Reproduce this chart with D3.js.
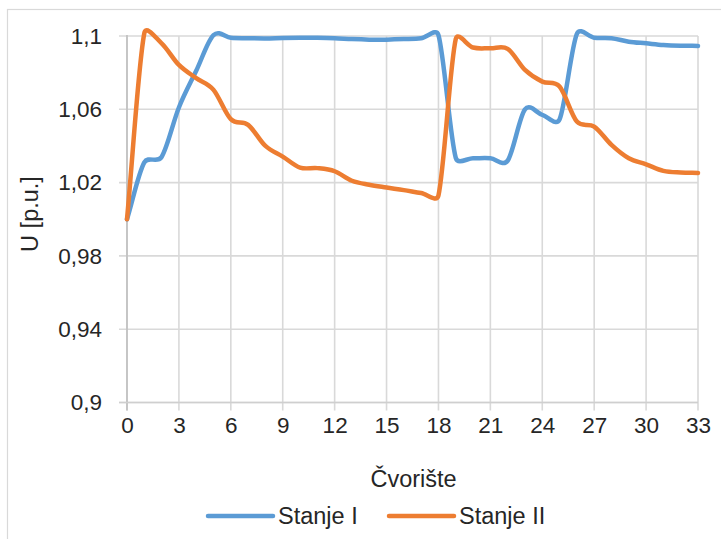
<!DOCTYPE html>
<html>
<head>
<meta charset="utf-8">
<script src="https://cdn.jsdelivr.net/npm/d3@7"></script>
<style>
  html, body { margin: 0; padding: 0; background: #fff; }
  svg { display: block; }
  text { font-family: "Liberation Sans", Arial, sans-serif; fill: #262626; }
</style>
</head>
<body>
<svg id="chart" width="721" height="539"></svg>
<script>
// Node indices (Čvorište)
const nodes = d3.range(0, 34);

// Voltage profile, state I (p.u.)
const stanjeI = [
  1.000, 1.031, 1.034, 1.061, 1.081, 1.1005, 1.0990, 1.0988, 1.0987, 1.0989,
  1.0990, 1.0990, 1.0988, 1.0983, 1.0980, 1.0980, 1.0983, 1.0988, 1.1005, 1.0335,
  1.0333, 1.0333, 1.0320, 1.0600, 1.0570, 1.0545, 1.1012, 1.0991, 1.0988, 1.0969,
  1.0960, 1.0951, 1.0947, 1.0946
];

// Voltage profile, state II (p.u.)
const stanjeII = [
  1.000, 1.1015, 1.0960, 1.0842, 1.0770, 1.0706, 1.0546, 1.0515, 1.0400, 1.0342,
  1.0282, 1.0279, 1.0262, 1.0210, 1.0188, 1.0173, 1.0159, 1.0143, 1.0130, 1.0984,
  1.0937, 1.0933, 1.0930, 1.0815, 1.0751, 1.0724, 1.0533, 1.0506, 1.0406, 1.0333,
  1.0300, 1.0264, 1.0255, 1.0253
];

const xTicks = d3.range(0, 34, 3);
const yTicks = [0.9, 0.94, 0.98, 1.02, 1.06, 1.1];
const seriesNames = ["Stanje I", "Stanje II"];
const seriesColors = ["#5B9BD5", "#ED7D31"];

// Smoothed Bezier curve: Catmull-Rom tangents, with each control handle
// limited to a fraction of its segment's chord so steep jumps don't overshoot.
function SmoothClamped(context) { this._context = context; }
SmoothClamped.prototype = {
  areaStart() { this._line = 0; },
  areaEnd() { this._line = NaN; },
  lineStart() { this._pts = []; },
  point(px, py) { this._pts.push([+px, +py]); },
  lineEnd() {
    const p = this._pts, n = p.length, ctx = this._context, k = 0.45;
    if (!n) return;
    ctx.moveTo(p[0][0], p[0][1]);
    if (n === 1) return;
    const T = p.map((pt, i) => {
      const a = p[Math.max(0, i - 1)], b = p[Math.min(n - 1, i + 1)];
      const s = (i === 0 || i === n - 1) ? 3 : 6;
      return [(b[0] - a[0]) / s, (b[1] - a[1]) / s];
    });
    const clamp = (v, m) => {
      const len = Math.hypot(v[0], v[1]);
      return len > m ? [v[0] * m / len, v[1] * m / len] : v;
    };
    for (let i = 0; i < n - 1; i++) {
      const a = p[i], b = p[i + 1];
      const L = Math.hypot(b[0] - a[0], b[1] - a[1]);
      const t0 = clamp(T[i], k * L), t1 = clamp(T[i + 1], k * L);
      ctx.bezierCurveTo(a[0] + t0[0], a[1] + t0[1], b[0] - t1[0], b[1] - t1[1], b[0], b[1]);
    }
  }
};
const curveSmooth = context => new SmoothClamped(context);

const svg = d3.select("#chart");
const margin = { left: 127, right: 23, top: 36, bottom: 136.5 };
const W = 721, H = 539;

const x = d3.scaleLinear().domain([0, 33]).range([margin.left, W - margin.right]);
const y = d3.scaleLinear().domain([0.9, 1.1]).range([H - margin.bottom, margin.top]);
const fmt = v => d3.format(".2~f")(v).replace(".", ",");

// Chart frame
svg.append("rect")
  .attr("x", 7.5).attr("y", 9.5).attr("width", 900).attr("height", 900)
  .attr("fill", "none").attr("stroke", "#d9d9d9").attr("stroke-width", 1.2);

// Gridlines
const grid = svg.append("g");
grid.selectAll("line.h").data(yTicks).join("line")
  .attr("x1", x(0) - 8).attr("x2", x(33))
  .attr("y1", d => y(d)).attr("y2", d => y(d))
  .attr("stroke", "#d9d9d9").attr("stroke-width", 1.6);
grid.selectAll("line.v").data(xTicks).join("line")
  .attr("x1", d => x(d)).attr("x2", d => x(d))
  .attr("y1", y(1.1)).attr("y2", y(0.9) + 8)
  .attr("stroke", "#d9d9d9").attr("stroke-width", 1.6);

// Axis lines
svg.append("line")
  .attr("x1", x(0)).attr("x2", x(0)).attr("y1", y(1.1) - 1).attr("y2", y(0.9) + 8)
  .attr("stroke", "#bfbfbf").attr("stroke-width", 1.6);
svg.append("line")
  .attr("x1", x(0) - 8).attr("x2", x(33)).attr("y1", y(0.9)).attr("y2", y(0.9))
  .attr("stroke", "#cfcfcf").attr("stroke-width", 1.6);

// Y axis
const yAxis = d3.axisLeft(y).tickValues(yTicks).tickFormat(fmt).tickSize(0).tickPadding(25);
const gy = svg.append("g").attr("transform", `translate(${x(0)},0)`).call(yAxis);
gy.select(".domain").remove();
gy.selectAll("text").style("font-size", "22.5px").attr("fill", "#262626");

// X axis
const xAxis = d3.axisBottom(x).tickValues(xTicks).tickFormat(d3.format("d")).tickSize(0).tickPadding(26);
const gx = svg.append("g").attr("transform", `translate(0,${y(0.9)})`).call(xAxis);
gx.select(".domain").remove();
gx.selectAll("text").style("font-size", "22.5px").attr("fill", "#262626").attr("dy", "0.2em");

// Axis titles
svg.append("text")
  .attr("x", (x(0) + x(33)) / 2 + 1).attr("y", 487)
  .attr("text-anchor", "middle").style("font-size", "23.5px")
  .text("Čvorište");
svg.append("text")
  .attr("transform", `translate(38,214) rotate(-90)`)
  .attr("text-anchor", "middle").style("font-size", "23.5px")
  .text("U [p.u.]");

// Series lines, smoothed
const line = d3.line()
  .x((d, i) => x(nodes[i]))
  .y(d => y(d))
  .curve(curveSmooth);
const series = [stanjeI, stanjeII];
svg.append("g").selectAll("path").data(series).join("path")
  .attr("d", d => line(d))
  .attr("fill", "none")
  .attr("stroke", (d, i) => seriesColors[i])
  .attr("stroke-width", 4.5)
  .attr("stroke-linecap", "round")
  .attr("stroke-linejoin", "round");

// Legend
const legendItems = [
  { name: seriesNames[0], color: seriesColors[0], x: 208 },
  { name: seriesNames[1], color: seriesColors[1], x: 389 }
];
const lg = svg.append("g");
legendItems.forEach(it => {
  lg.append("line")
    .attr("x1", it.x).attr("x2", it.x + 65).attr("y1", 516).attr("y2", 516)
    .attr("stroke", it.color).attr("stroke-width", 4.5).attr("stroke-linecap", "round");
  lg.append("text")
    .attr("x", it.x + 70).attr("y", 524)
    .style("font-size", "23.5px")
    .text(it.name);
});
</script>
</body>
</html>
